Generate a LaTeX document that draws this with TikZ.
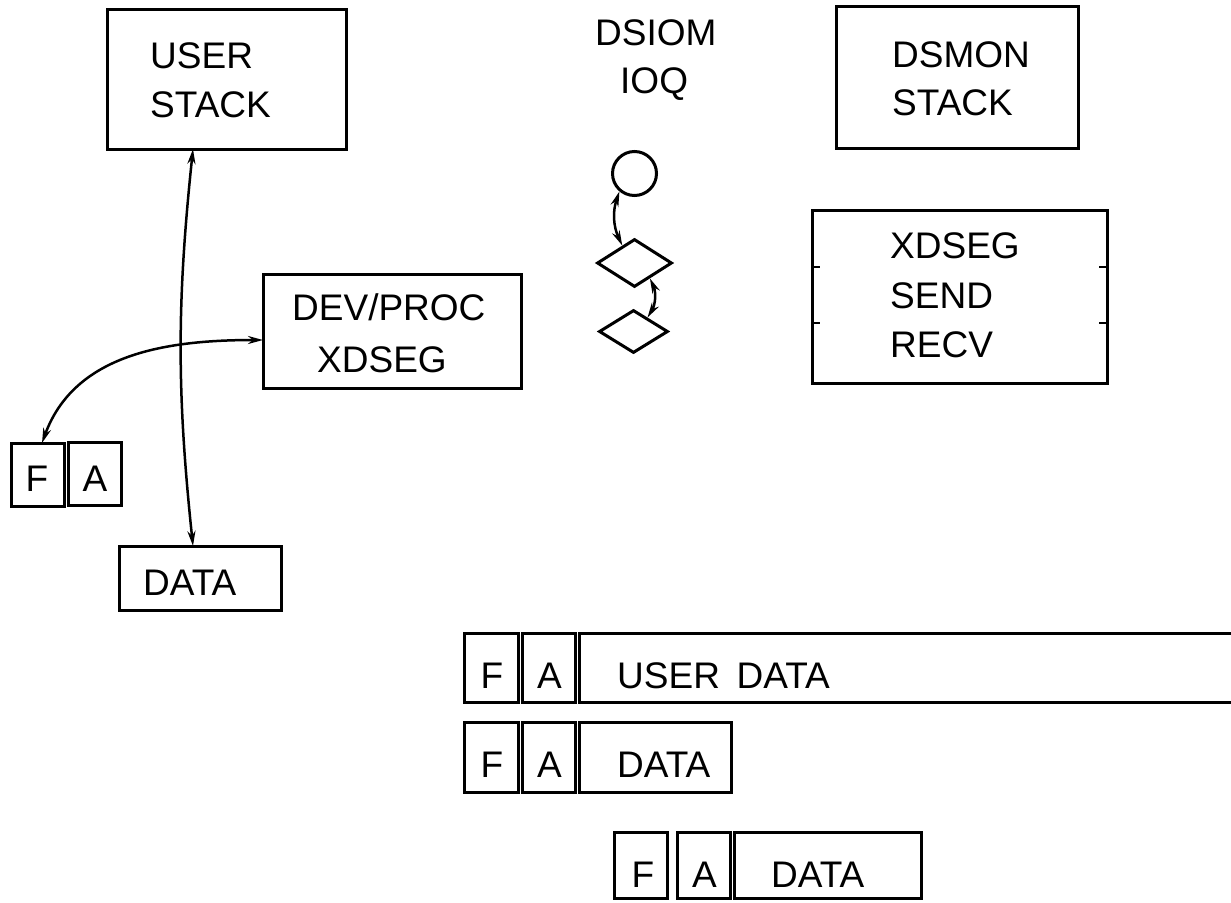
\documentclass[tikz,border=0pt]{standalone}
\usepackage{fontspec}
\setmainfont{Liberation Sans}
\usetikzlibrary{shapes.geometric,arrows.meta}
\begin{document}
\begin{tikzpicture}[x=1pt,y=1pt,
  bx/.style={draw,rectangle,line width=3pt,inner sep=0pt,outer sep=0pt},
  lbl/.style={anchor=base west,inner sep=0pt,font=\fontsize{37}{44}\selectfont},
  lc/.style={anchor=base,inner sep=0pt,font=\fontsize{37}{44}\selectfont},
  link/.style={line width=2.5pt,{Stealth[length=15pt,width=8pt]}-{Stealth[length=15pt,width=8pt]}},
  tick/.style={line width=2.5pt}]
\useasboundingbox (0,0) rectangle (1231,-902);

% --- user side -------------------------------------------------------
\node[bx,minimum width=239pt,minimum height=140pt] (us) at (226.5,-79) {};
\node[lbl] (usA) at (150,-68) {USER};
\node[lbl] (usB) at (150,-117) {STACK};

\node[bx,minimum width=258pt,minimum height=114pt] (dp) at (392,-331) {};
\node[lbl] (dpA) at (292,-320) {DEV/PROC};
\node[lbl] (dpB) at (317,-372) {XDSEG};

\node[bx,minimum width=53pt,minimum height=63pt] (fl) at (37.5,-474.5) {};
\node[bx,minimum width=53pt,minimum height=63pt] (al) at (94.5,-473.5) {};
\node[lc] (flT) at (37,-491) {F};
\node[lc] (alT) at (95,-491) {A};

\node[bx,minimum width=162pt,minimum height=64pt] (dl) at (200,-578) {};
\node[lbl] (dlT) at (143,-595) {DATA};

\draw[link] ([xshift=86pt]us.south west) to[bend right=6] ([xshift=74pt]dl.north west);
\draw[link] ([yshift=-9pt]dp.west) to[out=180,in=70] ([xshift=4.5pt]fl.north);

% --- I/O queue -------------------------------------------------------
\node[lbl] (ioA) at (595,-45) {DSIOM};
\node[lbl] (ioB) at (620,-93) {IOQ};
\node[draw,circle,line width=3pt,minimum size=44pt,inner sep=0pt] (io) at (634.5,-173.5) {};
\node[draw,diamond,line width=3pt,minimum width=75pt,minimum height=48pt,inner sep=0pt] (d1) at (634.5,-263) {};
\node[draw,diamond,line width=3pt,minimum width=69pt,minimum height=43pt,inner sep=0pt] (d2) at (633.5,-331.5) {};
\draw[link] (io.230) to[bend right=22] (d1.125);
\draw[link] (d1.-45) to[bend left=28] (d2.45);

% --- monitor side ----------------------------------------------------
\node[bx,minimum width=242pt,minimum height=142pt] (dm) at (957,-77) {};
\node[lbl] (dmA) at (892,-67) {DSMON};
\node[lbl] (dmB) at (892,-115) {STACK};

\node[bx,minimum width=295pt,minimum height=173pt] (xs) at (959.5,-296.5) {};
\node[lbl] (xsA) at (890,-258) {XDSEG};
\node[lbl] (xsB) at (890,-308) {SEND};
\node[lbl] (xsC) at (890,-357) {RECV};
\draw[tick] ([yshift=29.5pt]xs.west) -- ++(8,0);
\draw[tick] ([yshift=-26.5pt]xs.west) -- ++(8,0);
\draw[tick] ([yshift=29.5pt]xs.east) -- ++(-8,0);
\draw[tick] ([yshift=-26.5pt]xs.east) -- ++(-8,0);

% --- frames ----------------------------------------------------------
\node[bx,minimum width=54pt,minimum height=69pt] (r1f) at (491,-667.5) {};
\node[bx,minimum width=53pt,minimum height=69pt] (r1a) at (548.5,-667.5) {};
\node[bx,minimum width=661pt,minimum height=69pt] (r1d) at (909.5,-667.5) {};
\node[lc] (r1fT) at (492,-688) {F};
\node[lc] (r1aT) at (549.5,-688) {A};
\node[lbl] (r1dT) at (617,-688) {USER\hspace{0.45em}DATA};

\node[bx,minimum width=54pt,minimum height=70pt] (r2f) at (491,-757) {};
\node[bx,minimum width=53pt,minimum height=70pt] (r2a) at (548.5,-757) {};
\node[bx,minimum width=152pt,minimum height=70pt] (r2d) at (655,-757) {};
\node[lc] (r2fT) at (492,-777) {F};
\node[lc] (r2aT) at (549.5,-777) {A};
\node[lbl] (r2dT) at (617,-777) {DATA};

\node[bx,minimum width=53pt,minimum height=66pt] (r3f) at (640.5,-865) {};
\node[bx,minimum width=53pt,minimum height=66pt] (r3a) at (703.5,-865) {};
\node[bx,minimum width=187pt,minimum height=66pt] (r3d) at (827.5,-865) {};
\node[lc] (r3fT) at (643,-887) {F};
\node[lc] (r3aT) at (704.5,-887) {A};
\node[lbl] (r3dT) at (771,-887) {DATA};
\end{tikzpicture}
\end{document}
